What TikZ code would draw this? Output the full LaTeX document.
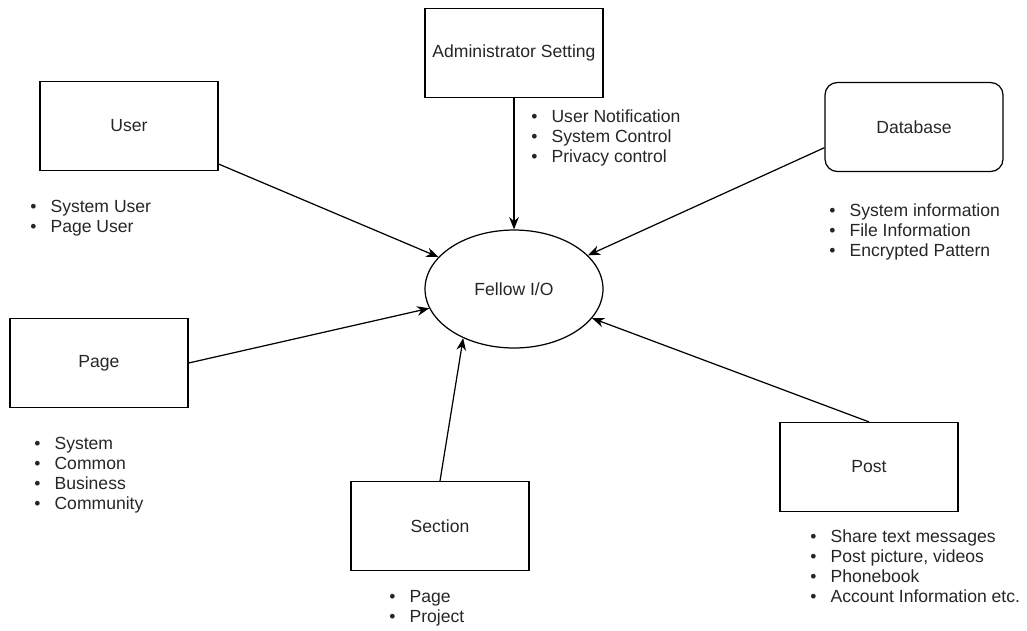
\documentclass[tikz,border=0pt]{standalone}
\usepackage{fontspec}
\setmainfont{Liberation Sans}
\usepackage{tikz}
\usetikzlibrary{shapes.geometric,arrows.meta}
\newcommand{\bul}{\textbullet\hspace{8pt}}

\begin{document}
\begin{tikzpicture}[x=0.02cm,y=-0.02cm]
\tikzstyle{box} = [rectangle,draw,line width=0.7pt,minimum width=3.56cm,
minimum height=1.78cm,inner sep=0pt,text=black!85,font=\fontsize{10}{12}\selectfont]
\tikzstyle{list} = [anchor=north west,align=left,inner sep=0pt,text=black!85,
font=\fontsize{10}{11.4}\selectfont]
\tikzstyle{arr} = [-{Stealth[length=7pt,width=5.5pt]},line width=0.7pt]
\useasboundingbox (0,0) rectangle (1027,630);
% centre
\node [ellipse,draw,line width=0.7pt,minimum width=3.56cm,minimum height=2.36cm,
text=black!85,font=\fontsize{10}{12}\selectfont] (fellow) at (514,289) {Fellow I/O};
% boxes
\node [box] (admin) at (514,53) {Administrator Setting};
\node [box] (user) at (129,126) {User};
\node [box,rounded corners=7pt] (db) at (914,127) {Database};
\node [box] (page) at (99,363) {Page};
\node [box] (section) at (440,526) {Section};
\node [box] (post) at (869,467) {Post};
% lists
\node [list] (adminlist) at (531,109) {\bul User Notification\\\bul System Control\\\bul Privacy control};
\node [list] (userlist) at (30,200) {\bul System User\\\bul Page User};
\node [list] (dblist) at (829,203) {\bul System information\\\bul File Information\\\bul Encrypted Pattern};
\node [list] (pagelist) at (34,437) {\bul System\\\bul Common\\\bul Business\\\bul Community};
\node [list] (sectionlist) at (389,590) {\bul Page\\\bul Project};
\node [list] (postlist) at (810,529) {\bul Share text messages\\\bul Post picture, videos\\\bul Phonebook\\\bul Account Information etc.};
% arrows
\draw [arr] (admin.south) -- (fellow);
\draw [arr] (user.-23) -- (fellow);
\draw [arr] (db.193) -- (fellow);
\draw [arr] (page.east) -- (fellow);
\draw [arr] (section.north) -- (fellow.224);
\draw [arr] (post.north) -- (fellow);
\end{tikzpicture}
\end{document}
